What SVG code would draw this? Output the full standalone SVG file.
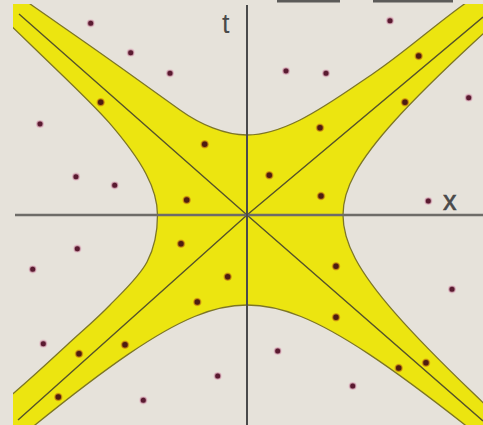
<svg xmlns="http://www.w3.org/2000/svg" width="483" height="425" viewBox="0 0 483 425">
<style>
.bg{fill:#e6e2da}
.band{fill:#ece510;stroke:#7d7626;stroke-width:1.3}
.diag{fill:none;stroke:#55522a;stroke-width:1.4}
.axis{fill:none;stroke:#4a4a4a;stroke-width:2}
.haxis{fill:none;stroke:#6e6c68;stroke-width:2.6}
.lbl{font-family:"Liberation Sans",Arial,sans-serif;font-size:27px;fill:#4a4a4a}
.g circle{fill:#5a1a30;stroke:#e2b8c4;stroke-opacity:0.7;stroke-width:1.6}
.y circle{fill:#4e1c12;stroke:#d89a10;stroke-opacity:0.7;stroke-width:1.6}
</style>
<defs>
<clipPath id="frame"><rect x="13" y="4" width="470" height="421"/></clipPath>
</defs>
<rect class="bg" x="0" y="0" width="483" height="425"/>
<g id="scan-edge" fill="#3a3a3a" opacity="0.8">
<rect x="277" y="0" width="63" height="2.5"/>
<rect x="373" y="0" width="80" height="2.5"/>
</g>
<g id="region" clip-path="url(#frame)">
<path class="band" d="M -60,-60 C -30,-39 3,-15 33,6 C 62,26.3 91,46.1 120,67 C 140,81.4 160,95.6 180,110 C 200,124.4 225,135 247,135 C 265,135 285,127.5 300,120 C 325,107.5 349,90 374,73 C 404,52.6 433,26.6 463,5 C 493,-16.6 530,-43 560,-65 L 608.17,-77.47 C 550.14,-26.91 506.90,11.67 472.83,43.29 C 438.76,74.91 413.94,99.49 395.14,120.23 C 376.34,140.97 363.59,157.82 355.25,172.98 C 346.91,188.14 343,201.56 343,215 C 343,228.92 346.91,242.82 355.25,258.52 C 363.59,274.22 376.34,291.67 395.14,313.15 C 413.94,334.63 438.76,360.09 472.83,392.84 C 506.90,425.59 550.14,465.55 608.17,517.92 L 622.20,553.60 C 557.33,499.20 507.84,458.66 467.28,426.72 C 426.72,394.78 395.18,371.51 368.57,353.88 C 341.96,336.25 320.35,324.30 300.91,316.48 C 281.47,308.66 264.24,305 247,305 C 230.24,305 213.50,308.66 194.60,316.48 C 175.70,324.30 154.68,336.25 128.82,353.88 C 102.96,371.51 72.31,394.78 32.88,426.72 C -6.55,458.66 -54.66,499.20 -117.72,553.60 L -60,455 C -35,434 -6.2,410.3 15,392 C 36.2,373.7 51.2,359.5 67,345 C 82.8,330.5 96.7,318.8 110,305 C 123.3,291.2 139.1,277 147,262 C 154.9,247 157.5,230 157.5,215 C 157.5,201.87 153.85,188.76 146.08,173.96 C 138.31,159.16 126.42,142.70 108.89,122.44 C 91.36,102.18 62.76,75.88 31,45 C -0.76,14.12 -41.6,-24.3 -95,-73 Z"/>
</g>
<g id="connectors">
<polyline class="diag" points="19,14 247,215 483,421"/>
<polyline class="diag" points="18,420 247,215 483,17"/>
<line id="x-axis" class="haxis" x1="15" y1="215" x2="483" y2="215"/>
<line id="t-axis" class="axis" x1="247" y1="5" x2="247" y2="425"/>
</g>
<g id="labels">
<text id="label-t" class="lbl" x="222" y="33">t</text>
<text id="label-x" class="lbl" x="443" y="210" stroke="#4a4a4a" stroke-width="0.6">x</text>
</g>
<g id="events-outside" class="g">
<circle cx="90.7" cy="23.3" r="3.3"/>
<circle cx="130.7" cy="52.7" r="3.3"/>
<circle cx="170" cy="73.3" r="3.3"/>
<circle cx="40" cy="124" r="3.3"/>
<circle cx="76" cy="176.7" r="3.3"/>
<circle cx="114.7" cy="185.3" r="3.3"/>
<circle cx="390" cy="20.7" r="3.3"/>
<circle cx="286" cy="71" r="3.3"/>
<circle cx="326" cy="73.3" r="3.3"/>
<circle cx="468.7" cy="97.7" r="3.3"/>
<circle cx="428.3" cy="201" r="3.3"/>
<circle cx="77.3" cy="248.7" r="3.3"/>
<circle cx="32.7" cy="269.3" r="3.3"/>
<circle cx="43.3" cy="343.7" r="3.3"/>
<circle cx="217.7" cy="376" r="3.3"/>
<circle cx="143.3" cy="400.3" r="3.3"/>
<circle cx="452" cy="289.3" r="3.3"/>
<circle cx="277.7" cy="351" r="3.3"/>
<circle cx="352.7" cy="386" r="3.3"/>
</g>
<g id="events-inside" class="y">
<circle cx="100.7" cy="102.3" r="3.5"/>
<circle cx="204.7" cy="144.3" r="3.5"/>
<circle cx="186.7" cy="200" r="3.5"/>
<circle cx="418.7" cy="56" r="3.5"/>
<circle cx="405" cy="102.3" r="3.5"/>
<circle cx="320" cy="127.7" r="3.5"/>
<circle cx="269.3" cy="175.3" r="3.5"/>
<circle cx="321" cy="196" r="3.5"/>
<circle cx="181" cy="243.7" r="3.5"/>
<circle cx="227.7" cy="276.7" r="3.5"/>
<circle cx="197.3" cy="302" r="3.5"/>
<circle cx="79" cy="353.7" r="3.5"/>
<circle cx="125" cy="344.7" r="3.5"/>
<circle cx="58.3" cy="397" r="3.5"/>
<circle cx="336" cy="266.3" r="3.5"/>
<circle cx="336" cy="317.3" r="3.5"/>
<circle cx="426" cy="362.7" r="3.5"/>
<circle cx="398.7" cy="368" r="3.5"/>
</g>
</svg>
